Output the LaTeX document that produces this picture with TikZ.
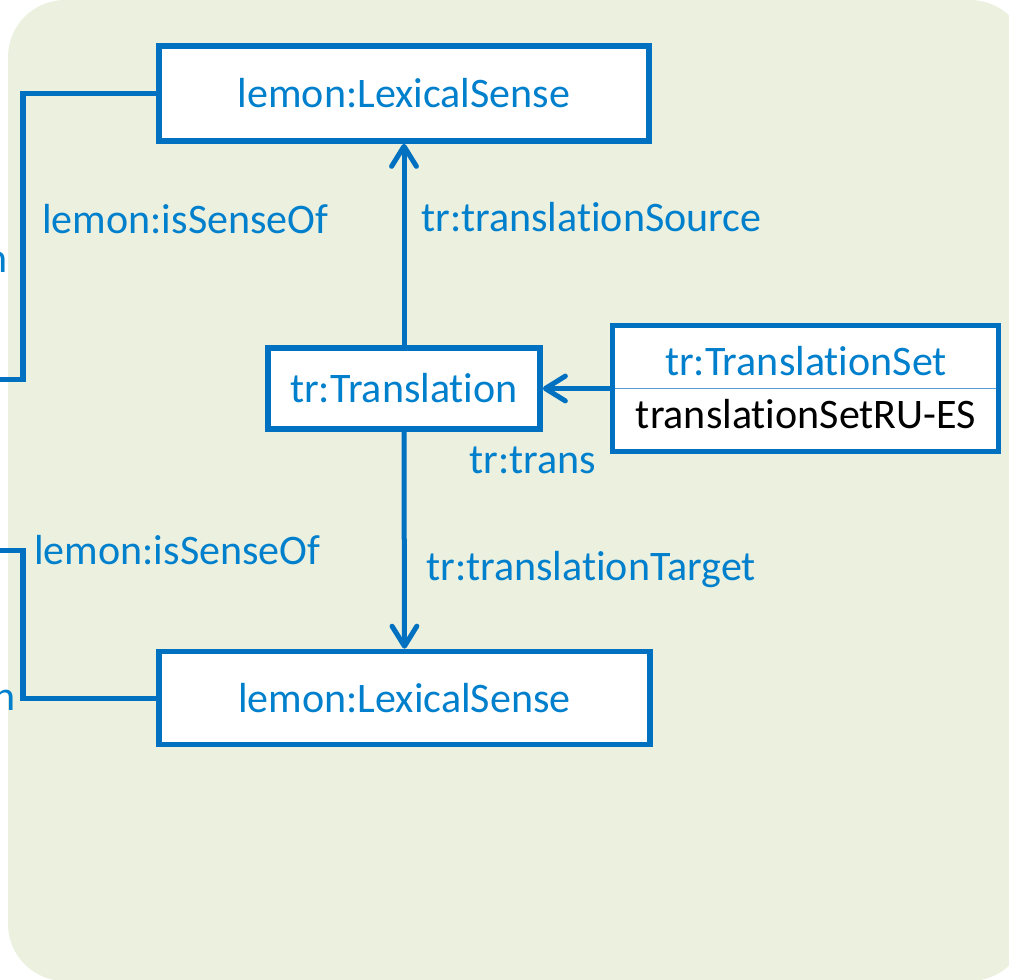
\documentclass[tikz,border=0pt]{standalone}
\usepackage{fontspec}
\setmainfont[Ligatures=NoCommon]{Carlito}
\usetikzlibrary{arrows.meta}
\usetikzlibrary{positioning}
\usepackage{xcolor}
\definecolor{lemonblue}{HTML}{0070C0}
\definecolor{labelblue}{HTML}{0080CC}
\definecolor{panelgreen}{HTML}{EBF0DF}
\definecolor{splitblue}{HTML}{5B9BD5}

\begin{document}
\begin{tikzpicture}[x=0.025cm, y=-0.025cm,
		every node/.style={font=\fontsize{29.9}{36}\selectfont},
		sensebox/.style={draw=lemonblue, line width=0.14cm, fill=white, text=labelblue, inner sep=0pt},
		rel/.style={text=labelblue, anchor=base west, inner sep=0pt},
		link/.style={draw=lemonblue, line width=0.125cm},
		tip/.style={link, -{Straight Barb[length=0.5cm, width=0.62cm, round]}}]
		\useasboundingbox (0,0) rectangle (1009,980);
		\clip (0,0) rectangle (1009,980);
		% panel
		\fill[panelgreen, rounded corners=1.425cm] (8,0) rectangle (1027,981);
		% senses and translation
		\node[sensebox, minimum width=12.25cm, minimum height=2.375cm] (lsTop) at (404,93.5) {lemon:LexicalSense};
		\node[sensebox, minimum width=12.275cm, minimum height=2.325cm] (lsBot) at (404.5,698) {lemon:LexicalSense};
		\node[sensebox, minimum width=6.8cm, minimum height=2.025cm] (trans) at (404,388.5) {tr:Translation};
		\node[sensebox, minimum width=9.65cm, minimum height=3.15cm] (tset) at (805.5,388.5) {};
		\draw[splitblue, line width=0.04cm, shorten <=0.14cm, shorten >=0.14cm] (tset.west) -- (tset.east);
		\node[rel, anchor=base] (tsetType) at (806,375) {tr:TranslationSet};
		\node[rel, anchor=base, text=black] (tsetName) at (806,428) {translationSetRU-ES};
		% connectors
		\draw[tip] (tset.west) -- (trans.east);
		\draw[tip] (trans.north) -- (lsTop.south);
		\draw[tip] (trans.south) -- (lsBot.north);
		\coordinate (senseTopBend) at (23,379); \coordinate (senseTopOut) at (-10,379);
		\coordinate (senseBotBend) at (23,550); \coordinate (senseBotOut) at (-10,550);
		\draw[link] (lsTop.west) -| (senseTopBend) -- (senseTopOut);
		\draw[link] (lsBot.west) -| (senseBotBend) -- (senseBotOut);
		% labels
		\node[rel] (senseOfTop) at (42,233) {lemon:isSenseOf};
		\node[rel] (senseOfBot) at (34,564) {lemon:isSenseOf};
		\node[rel] (srcLabel) at (421,231) {tr:translationSource};
		\node[rel] (tgtLabel) at (426,580) {tr:translationTarget};
		\node[rel] (transLabel) at (469,473) {tr:trans};
		\node[rel, anchor=base east] (cutTop) at (8,272) {n};
		\node[rel, anchor=base east] (cutBot) at (16,710) {n};
	\end{tikzpicture}
\end{document}
